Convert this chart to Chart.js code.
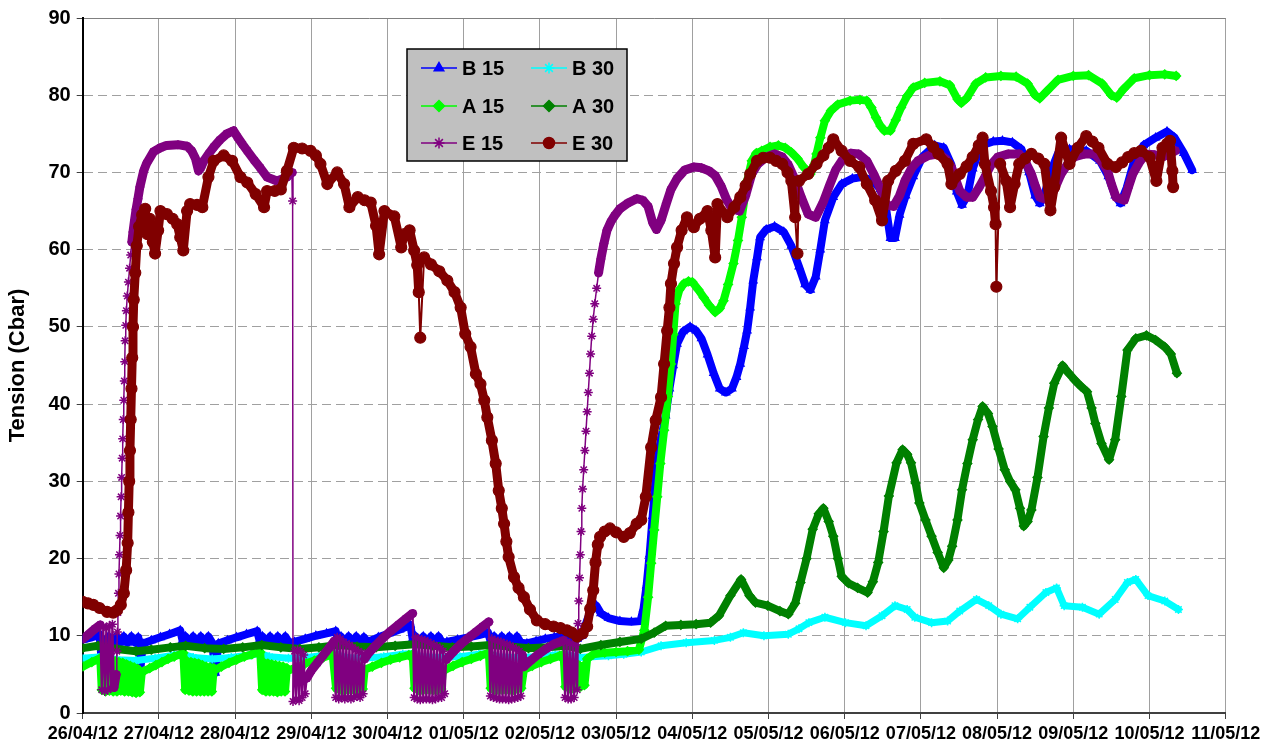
<!DOCTYPE html>
<html><head><meta charset="utf-8">
<script src="https://cdn.jsdelivr.net/npm/chart.js@4.4.1/dist/chart.umd.min.js"></script>
<style>html,body{margin:0;padding:0;background:#fff;}canvas{display:block;}</style>
</head><body>
<canvas id="c" width="1269" height="751"></canvas>
<script>
// ---- data (x = days since 26/04/12 00:00, y = tension in Cbar) ----
const dateLabels = ['26/04/12','27/04/12','28/04/12','29/04/12','30/04/12','01/05/12','02/05/12','03/05/12','04/05/12','05/05/12','06/05/12','07/05/12','08/05/12','09/05/12','10/05/12','11/05/12'];
const seriesNames = ['B 15','B 30','A 15','A 30','E 15','E 30'];

const b15 = [[0.00,9.5],[0.12,9.8],[0.22,10.2],[0.26,5.5],[0.30,9.4],
[0.34,9.9],[0.39,9.1],[0.44,9.9],[0.49,9.1],[0.54,9.9],[0.59,9.1],[0.64,9.9],[0.69,9.1],[0.73,9.8],[0.76,6.0],[0.79,9.0],
[0.90,9.4],[1.02,9.8],[1.14,10.2],[1.28,10.7],[1.31,9.4],
[1.35,9.9],[1.40,9.1],[1.45,9.9],[1.50,9.1],[1.55,9.9],[1.60,9.1],[1.65,9.9],[1.70,9.1],[1.74,5.2],[1.78,9.0],
[1.90,9.4],[2.02,9.8],[2.15,10.2],[2.29,10.6],[2.32,9.4],
[2.36,9.9],[2.41,9.1],[2.46,9.9],[2.51,9.1],[2.56,9.9],[2.61,9.1],[2.66,9.9],[2.71,9.1],[2.78,9.2],
[2.92,9.6],[3.06,10.0],[3.20,10.3],[3.32,10.6],[3.35,9.4],
[3.39,9.9],[3.44,9.1],[3.49,9.9],[3.54,9.1],[3.59,9.9],[3.64,9.1],[3.69,9.8],[3.74,9.2],
[3.88,9.8],[4.02,10.3],[4.16,10.8],[4.30,11.4],[4.33,9.6],
[4.37,9.9],[4.42,9.1],[4.47,9.9],[4.52,9.1],[4.57,9.9],[4.62,9.1],[4.67,9.9],[4.72,9.1],[4.78,9.2],
[4.92,9.5],[5.06,9.8],[5.20,10.1],[5.32,10.4],[5.35,9.4],
[5.40,9.9],[5.45,9.1],[5.50,9.9],[5.55,9.1],[5.60,9.9],[5.65,9.1],[5.70,9.9],[5.75,9.1],[5.83,9.0],
[5.95,9.3],[6.07,9.6],[6.19,9.8],[6.30,10.0],[6.34,9.4],[6.39,9.9],[6.44,9.1],[6.49,9.6],
[6.55,10.0],[6.62,12.0],[6.68,13.5],[6.74,13.9],[6.80,12.9],[6.90,12.3],[7.05,11.9],[7.20,11.8],[7.32,11.9],[7.36,13.5],[7.40,16.5],[7.44,20.5],[7.48,25.5],[7.52,30.5],[7.56,34.0],[7.60,36.0],[7.65,38.5],[7.70,42.0],[7.75,45.0],[7.80,47.8],[7.88,49.4],[7.97,50.0],[8.05,49.5],[8.12,48.5],[8.20,46.4],[8.28,44.0],[8.36,42.0],[8.44,41.5],[8.52,42.0],[8.58,43.5],[8.63,45.2],[8.68,47.5],[8.72,49.5],[8.76,52.5],[8.80,56.0],[8.85,59.0],[8.89,61.6],
[8.97,62.6],[9.08,63.0],[9.20,62.3],[9.30,60.5],[9.40,57.8],[9.48,55.5],[9.55,54.8],[9.62,56.5],[9.68,60.0],[9.74,63.8],[9.85,66.8],[9.96,68.5],[10.10,69.2],[10.22,69.4],[10.36,69.0],[10.47,67.8],[10.54,65.5],[10.60,61.5],[10.66,61.5],[10.72,64.5],[10.80,67.0],[10.90,69.5],[11.02,72.0],[11.18,73.5],[11.30,73.2],[11.40,71.0],[11.47,67.5],[11.54,65.8],[11.61,67.0],[11.68,70.5],[11.79,73.5],[11.95,74.0],[12.07,74.1],[12.20,73.9],[12.32,73.0],[12.42,70.0],[12.50,67.0],[12.56,66.0],[12.62,67.0],[12.70,70.0],[12.80,72.5],[12.95,73.0],[13.17,72.8],[13.35,71.5],[13.46,69.5],[13.55,67.0],[13.62,66.0],[13.70,68.0],[13.80,71.5],[13.92,73.5],[14.08,74.5],[14.23,75.3],[14.33,74.5],[14.45,72.5],[14.56,70.3]];

const b30 = [[0.00,7.1],[0.25,7.3],[0.45,6.9],[0.70,6.8],[0.95,7.1],[1.20,7.5],[1.32,7.6],[1.45,7.2],[1.70,7.0],[1.95,7.2],[2.20,7.5],[2.33,7.7],[2.45,7.3],[2.70,7.1],[2.95,7.2],[3.20,7.5],[3.32,7.6],[3.45,7.2],[3.70,7.1],[3.95,7.3],[4.20,7.6],[4.33,7.7],[4.45,7.3],[4.70,7.2],[4.95,7.3],[5.20,7.6],[5.33,7.7],[5.45,7.3],[5.70,7.2],[5.95,7.3],[6.20,7.5],[6.33,7.6],[6.53,7.2],[6.90,7.4],[7.10,7.6],[7.33,7.9],[7.59,8.7],[7.92,9.1],[8.29,9.4],[8.50,9.8],[8.67,10.4],[8.94,10.0],[9.26,10.2],[9.40,10.9],[9.53,11.7],[9.74,12.4],[10.01,11.7],[10.28,11.3],[10.49,12.6],[10.66,13.9],[10.82,13.4],[10.92,12.4],[11.14,11.7],[11.35,11.9],[11.51,13.2],[11.73,14.7],[11.89,13.9],[12.05,12.8],[12.27,12.2],[12.43,13.7],[12.64,15.6],[12.78,16.2],[12.88,13.9],[13.12,13.7],[13.34,12.8],[13.55,14.7],[13.71,16.9],[13.82,17.3],[13.98,15.2],[14.20,14.5],[14.38,13.4]];

const a15 = [[0.00,6.0],[0.12,6.6],[0.23,7.1],
[0.25,3.0],[0.275,6.9],[0.30,2.8],[0.325,6.8],[0.35,2.9],[0.375,6.8],[0.40,2.8],[0.425,6.7],[0.45,2.8],[0.475,6.6],[0.50,2.9],[0.525,6.5],[0.55,2.8],[0.575,6.3],[0.60,2.8],[0.625,6.1],[0.65,2.7],[0.675,5.9],[0.70,2.6],[0.725,5.7],[0.75,2.7],[0.775,5.2],
[0.80,5.4],[0.88,5.8],[0.96,6.2],[1.04,6.6],[1.12,7.0],[1.20,7.3],[1.28,7.6],[1.32,7.8],
[1.345,3.0],[1.37,6.7],[1.395,2.9],[1.42,6.6],[1.445,2.8],[1.47,6.5],[1.495,2.8],[1.52,6.4],[1.545,2.8],[1.57,6.2],[1.595,2.8],[1.62,6.0],[1.645,2.8],[1.67,5.9],[1.695,2.8],[1.72,5.8],[1.74,5.6],
[1.82,6.0],[1.92,6.5],[2.02,6.9],[2.12,7.3],[2.22,7.6],[2.33,7.9],
[2.355,3.0],[2.38,6.5],[2.405,2.8],[2.43,6.4],[2.455,2.8],[2.48,6.3],[2.505,2.8],[2.53,6.2],[2.555,2.7],[2.58,6.1],[2.605,2.8],[2.63,6.0],[2.655,2.8],[2.68,5.8],[2.70,5.5],
[2.80,5.9],[2.92,6.4],[3.04,6.8],[3.16,7.2],[3.28,7.6],
[3.325,3.2],[3.35,6.5],[3.375,3.0],[3.40,6.4],[3.425,3.0],[3.45,6.3],[3.475,3.0],[3.50,6.2],[3.525,3.0],[3.55,6.1],[3.575,3.0],[3.60,6.0],[3.625,3.0],[3.65,5.9],[3.675,3.1],[3.70,5.6],
[3.80,6.0],[3.92,6.5],[4.04,6.9],[4.16,7.2],[4.28,7.5],[4.33,7.6],
[4.355,3.2],[4.38,6.5],[4.405,3.0],[4.43,6.4],[4.455,3.0],[4.48,6.3],[4.505,3.0],[4.53,6.2],[4.555,3.0],[4.58,6.1],[4.605,3.0],[4.63,6.0],[4.655,3.0],[4.68,5.9],[4.705,3.1],[4.73,5.8],[4.76,5.6],
[4.86,6.1],[4.98,6.6],[5.10,7.0],[5.22,7.4],[5.33,7.8],
[5.355,3.2],[5.38,6.5],[5.405,3.0],[5.43,6.4],[5.455,3.0],[5.48,6.3],[5.505,3.0],[5.53,6.2],[5.555,3.0],[5.58,6.1],[5.605,3.0],[5.63,6.0],[5.655,3.0],[5.68,5.9],[5.705,3.1],[5.73,5.8],[5.755,3.2],[5.79,5.6],
[5.90,6.1],[6.02,6.6],[6.14,7.0],[6.26,7.4],[6.31,7.6],
[6.335,3.4],[6.36,6.5],[6.385,3.2],[6.41,6.4],[6.435,3.2],[6.46,6.3],[6.485,3.3],[6.51,6.2],[6.535,3.4],[6.56,6.0],[6.585,3.6],[6.62,7.0],
[6.70,7.6],[6.85,7.8],[7.00,7.9],[7.15,8.0],[7.30,8.2],[7.37,10.7],[7.42,15.0],[7.46,19.4],[7.50,23.7],[7.54,28.0],[7.58,32.3],[7.63,36.6],[7.68,41.0],[7.72,45.2],[7.75,49.0],[7.78,53.0],[7.83,54.8],[7.89,55.6],[7.95,55.9],[8.00,55.8],[8.08,54.8],[8.15,53.8],[8.22,52.8],[8.30,51.9],[8.36,52.4],[8.41,53.4],[8.47,55.5],[8.54,58.2],[8.60,61.2],[8.65,64.2],[8.72,68.9],[8.78,71.5],[8.84,72.5],[8.91,72.8],[9.02,73.3],[9.13,73.5],[9.22,73.2],[9.30,72.6],[9.38,71.8],[9.46,70.7],[9.55,69.8],[9.60,71.0],[9.63,72.4],[9.68,74.5],[9.74,76.7],[9.82,78.0],[9.91,78.8],[10.07,79.3],[10.20,79.4],[10.29,79.3],[10.35,78.4],[10.41,77.1],[10.47,76.0],[10.52,75.4],[10.60,75.4],[10.67,76.8],[10.74,78.4],[10.82,79.9],[10.90,81.0],[11.05,81.6],[11.25,81.8],[11.38,81.3],[11.48,79.5],[11.53,79.0],[11.60,79.6],[11.72,81.5],[11.85,82.3],[12.05,82.5],[12.25,82.4],[12.40,81.5],[12.50,80.0],[12.56,79.6],[12.65,80.5],[12.80,82.0],[13.00,82.5],[13.20,82.6],[13.38,81.5],[13.50,80.0],[13.57,79.7],[13.66,80.8],[13.80,82.2],[14.00,82.6],[14.20,82.7],[14.35,82.5]];

const a30 = [[0.00,8.4],[0.20,8.7],[0.45,8.3],[0.70,8.0],[0.90,8.2],[1.15,8.5],[1.35,8.7],[1.60,8.4],[1.85,8.3],[2.10,8.5],[2.35,8.8],[2.60,8.5],[2.85,8.3],[3.10,8.5],[3.35,8.8],[3.60,8.6],[3.85,8.5],[4.10,8.7],[4.35,8.9],[4.60,8.7],[4.85,8.5],[5.10,8.6],[5.35,8.8],[5.60,8.6],[5.85,8.4],[6.10,8.5],[6.35,8.7],[6.53,8.3],[6.80,8.8],[7.05,9.2],[7.33,9.6],[7.50,10.4],[7.65,11.3],[7.85,11.4],[8.05,11.5],[8.24,11.7],[8.35,12.6],[8.50,15.2],[8.64,17.3],[8.75,15.2],[8.83,14.3],[8.99,13.9],[9.15,13.2],[9.26,12.8],[9.35,14.2],[9.42,16.9],[9.50,20.0],[9.58,23.8],[9.66,25.8],[9.72,26.5],[9.79,24.8],[9.85,22.9],[9.91,20.0],[9.96,17.7],[10.05,16.8],[10.17,16.2],[10.30,15.6],[10.37,17.0],[10.44,19.5],[10.51,23.5],[10.58,28.1],[10.68,32.4],[10.76,34.1],[10.82,33.5],[10.87,32.4],[10.93,29.8],[10.98,27.2],[11.06,25.0],[11.14,22.9],[11.22,20.8],[11.30,18.8],[11.36,19.8],[11.41,21.6],[11.48,25.0],[11.54,28.9],[11.61,32.3],[11.68,35.4],[11.75,38.0],[11.81,39.7],[11.88,38.8],[11.94,37.1],[12.02,34.2],[12.10,31.5],[12.17,30.0],[12.24,28.9],[12.30,26.5],[12.35,24.2],[12.40,24.8],[12.45,26.3],[12.53,30.5],[12.61,35.8],[12.68,39.5],[12.75,42.7],[12.86,45.0],[12.94,44.0],[13.02,43.1],[13.10,42.3],[13.18,41.6],[13.24,39.5],[13.29,37.5],[13.37,34.9],[13.47,32.8],[13.55,35.4],[13.63,41.0],[13.71,47.0],[13.82,48.5],[13.96,48.9],[14.08,48.3],[14.20,47.4],[14.28,46.5],[14.36,44.0]];

const e15 = [[0.00,9.6],[0.08,10.2],[0.16,10.9],[0.23,11.4],
[0.25,3.0],[0.27,11.2],[0.29,2.8],[0.31,11.0],[0.33,3.0],[0.35,11.3],[0.37,3.2],[0.39,11.5],[0.41,3.3],[0.43,4.5],
[0.44,5.0],[0.448,8.0],[0.455,10.5],[0.462,13.0],[0.469,15.5],[0.476,18.0],[0.483,20.5],[0.49,23.0],[0.497,25.5],[0.504,28.0],[0.511,30.5],[0.518,33.0],[0.525,35.5],[0.532,38.0],[0.539,40.5],[0.546,43.0],[0.552,45.5],[0.557,48.2],[0.565,50.2],[0.573,52.1],[0.585,54.0],[0.60,55.8],[0.615,57.6],[0.63,59.3],[0.645,61.0],[0.66,62.3],[0.68,63.8],[0.70,65.2],[0.725,66.6],[0.75,68.1],[0.80,70.2],[0.84,71.2],[0.93,72.7],[1.02,73.2],[1.10,73.5],[1.25,73.6],[1.37,73.4],[1.43,72.8],[1.48,71.8],[1.52,70.2],[1.55,70.6],[1.59,71.5],[1.66,72.5],[1.72,73.3],[1.80,74.2],[1.89,75.0],[1.98,75.4],[2.03,74.6],[2.10,73.6],[2.16,72.8],[2.25,71.6],[2.33,70.6],[2.42,69.4],[2.55,68.9],[2.68,69.4],[2.75,70.0],[2.755,66.3],[2.76,1.5],
[2.78,8.0],[2.80,1.8],[2.82,8.2],[2.84,1.6],[2.86,8.0],[2.88,2.0],[2.90,7.5],[2.92,2.5],[2.94,4.5],
[3.00,5.5],[3.08,6.5],[3.16,7.5],[3.24,8.5],[3.30,9.3],
[3.32,2.0],[3.34,9.8],[3.36,1.8],[3.38,9.6],[3.40,2.0],[3.42,9.2],[3.44,1.8],[3.46,9.0],[3.48,2.0],[3.50,8.8],[3.52,1.8],[3.54,8.5],[3.56,2.0],[3.58,8.2],[3.60,2.2],[3.62,8.0],[3.64,2.0],[3.66,7.8],[3.68,2.5],[3.70,7.0],
[3.74,7.6],[3.84,8.7],[3.94,9.7],[4.04,10.6],[4.14,11.4],[4.24,12.2],[4.33,12.9],
[4.35,2.0],[4.37,9.8],[4.39,1.8],[4.41,9.6],[4.43,1.7],[4.45,9.5],[4.47,1.8],[4.49,9.4],[4.51,1.8],[4.53,9.2],[4.55,1.8],[4.57,9.0],[4.59,1.7],[4.61,8.8],[4.63,1.8],[4.65,8.6],[4.67,2.0],[4.69,8.4],[4.71,2.0],[4.73,8.0],[4.75,2.5],[4.77,6.9],
[4.86,7.9],[4.96,8.9],[5.06,9.7],[5.16,10.5],[5.25,11.2],[5.33,11.8],
[5.35,2.2],[5.37,9.6],[5.39,2.0],[5.41,9.4],[5.43,1.9],[5.45,9.3],[5.47,1.8],[5.49,9.2],[5.51,1.8],[5.53,9.0],[5.55,1.8],[5.57,8.9],[5.59,1.7],[5.61,8.7],[5.63,1.8],[5.65,8.5],[5.67,1.9],[5.69,8.3],[5.71,2.0],[5.73,8.0],[5.75,2.2],[5.77,7.5],[5.79,6.0],
[5.88,6.8],[5.98,7.6],[6.08,8.3],[6.18,8.9],[6.26,9.2],[6.31,9.4],
[6.33,2.0],[6.35,9.2],[6.37,1.8],[6.39,9.0],[6.41,1.8],[6.43,9.0],[6.45,2.0],[6.47,8.8],[6.49,3.0],
[6.50,11.6],[6.51,14.5],[6.52,17.5],[6.53,20.5],[6.54,23.5],[6.55,26.5],[6.56,29.0],[6.575,31.5],[6.59,34.0],[6.605,36.5],[6.62,39.0],[6.635,41.5],[6.65,44.0],[6.665,46.5],[6.68,48.8],[6.70,51.0],[6.72,53.0],[6.745,55.0],[6.77,57.0],[6.80,58.8],[6.84,60.8],[6.88,62.5],[6.93,63.6],[6.98,64.4],[7.05,65.3],[7.15,66.0],[7.27,66.6],[7.35,66.4],[7.42,65.6],[7.48,63.5],[7.53,62.6],[7.59,63.8],[7.66,66.0],[7.72,67.8],[7.80,69.2],[7.90,70.3],[8.02,70.7],[8.12,70.6],[8.22,70.2],[8.30,69.6],[8.38,68.2],[8.45,66.5],[8.52,65.3],[8.62,65.0],[8.70,67.0],[8.78,69.8],[8.86,71.1],[8.97,72.0],[9.08,72.4],[9.18,72.0],[9.26,71.0],[9.35,69.0],[9.43,66.8],[9.52,64.6],[9.62,64.2],[9.72,66.2],[9.80,68.3],[9.88,70.3],[9.96,71.5],[10.08,72.5],[10.18,72.4],[10.29,71.5],[10.38,69.8],[10.46,68.1],[10.55,65.8],[10.64,65.6],[10.72,67.0],[10.79,68.9],[10.88,70.6],[10.96,71.5],[11.10,72.2],[11.24,72.4],[11.33,71.7],[11.40,70.7],[11.46,69.0],[11.51,67.6],[11.60,66.8],[11.68,66.8],[11.76,68.0],[11.84,69.4],[11.92,71.0],[12.01,72.0],[12.15,72.4],[12.29,72.4],[12.38,71.2],[12.45,69.8],[12.50,68.3],[12.56,66.8],[12.68,66.4],[12.76,68.0],[12.84,69.8],[12.92,71.0],[13.01,72.0],[13.15,72.4],[13.28,72.4],[13.37,71.4],[13.45,70.2],[13.50,68.5],[13.56,66.8],[13.67,66.4],[13.72,68.0],[13.78,69.8],[13.86,71.2],[13.95,72.4],[14.06,72.3],[14.17,72.0],[14.26,72.4],[14.34,72.8]];

const e30 = [[0.00,14.4],[0.07,14.2],[0.14,14.0],[0.22,13.6],[0.32,13.1],[0.40,13.0],[0.45,13.3],[0.50,14.0],[0.54,15.5],[0.57,18.5],[0.59,22.0],[0.60,26.0],[0.61,30.0],[0.62,34.0],[0.63,38.0],[0.64,42.0],[0.65,46.0],[0.66,50.0],[0.67,53.5],[0.69,57.0],[0.71,60.5],[0.74,63.0],[0.78,64.5],[0.82,65.3],[0.85,62.0],[0.88,64.0],[0.92,61.0],[0.95,59.5],[0.99,62.5],[1.02,65.0],[1.105,64.6],[1.18,64.0],[1.24,63.3],[1.28,61.6],[1.32,59.9],[1.37,65.0],[1.41,65.9],[1.50,65.8],[1.57,65.5],[1.65,69.4],[1.72,71.5],[1.85,72.2],[1.96,71.5],[2.07,69.4],[2.16,68.7],[2.27,67.2],[2.38,65.5],[2.42,67.6],[2.52,67.6],[2.60,67.8],[2.68,70.2],[2.77,73.2],[2.88,73.1],[2.99,72.8],[3.06,72.2],[3.12,71.1],[3.21,68.5],[3.34,70.0],[3.43,68.5],[3.50,65.5],[3.61,66.8],[3.70,66.4],[3.78,66.1],[3.85,63.1],[3.89,59.4],[3.96,65.0],[4.09,64.3],[4.18,60.3],[4.22,62.0],[4.29,62.5],[4.35,59.9],[4.39,58.0],[4.41,54.5],[4.43,48.6],[4.48,59.0],[4.57,58.1],[4.68,57.2],[4.785,56.0],[4.88,54.5],[4.96,52.5],[5.02,49.1],[5.09,47.4],[5.16,43.9],[5.22,42.6],[5.27,40.5],[5.31,38.3],[5.37,35.3],[5.42,32.3],[5.46,28.8],[5.50,26.5],[5.53,24.5],[5.56,22.2],[5.59,20.2],[5.66,17.6],[5.72,16.2],[5.79,15.0],[5.87,13.4],[5.96,12.0],[6.07,11.5],[6.18,11.2],[6.27,11.0],[6.355,10.7],[6.42,10.4],[6.49,9.9],[6.56,10.3],[6.62,11.2],[6.66,13.5],[6.70,15.9],[6.73,19.5],[6.76,21.8],[6.79,22.8],[6.85,23.5],[6.92,23.9],[7.00,23.4],[7.10,22.8],[7.18,23.3],[7.27,24.5],[7.33,25.0],[7.39,28.0],[7.46,34.4],[7.52,37.9],[7.59,40.9],[7.63,45.2],[7.67,49.5],[7.70,52.5],[7.72,55.6],[7.76,58.2],[7.80,60.3],[7.86,62.5],[7.93,64.2],[8.02,62.9],[8.10,64.0],[8.20,65.0],[8.25,62.5],[8.30,59.0],[8.33,65.9],[8.46,64.2],[8.55,65.5],[8.63,66.8],[8.70,68.3],[8.76,69.8],[8.85,71.5],[8.93,71.9],[9.02,71.9],[9.10,71.5],[9.18,71.1],[9.25,70.0],[9.30,68.9],[9.35,64.2],[9.38,59.5],[9.40,68.9],[9.52,69.8],[9.63,71.1],[9.72,72.2],[9.79,73.2],[9.85,74.3],[9.96,72.8],[10.07,71.5],[10.19,70.7],[10.29,68.5],[10.40,66.4],[10.49,63.8],[10.57,68.9],[10.67,70.2],[10.79,71.5],[10.90,73.7],[11.07,74.3],[11.16,73.3],[11.23,72.4],[11.35,71.1],[11.40,68.5],[11.51,69.8],[11.60,70.8],[11.68,72.0],[11.76,73.5],[11.81,74.5],[11.84,71.1],[11.92,67.6],[11.96,65.5],[11.98,63.3],[11.99,55.2],[12.04,71.1],[12.12,68.9],[12.17,65.5],[12.23,68.5],[12.29,71.1],[12.37,71.8],[12.45,72.4],[12.54,71.8],[12.62,71.1],[12.70,65.1],[12.75,68.1],[12.84,74.5],[12.95,71.1],[13.06,73.2],[13.17,74.7],[13.25,74.0],[13.33,73.2],[13.45,71.1],[13.56,70.7],[13.64,71.3],[13.72,72.0],[13.80,72.5],[13.89,72.8],[14.00,72.0],[14.09,68.9],[14.17,73.2],[14.23,73.7],[14.27,74.1],[14.30,70.2],[14.31,68.1]];

// ---- rendering ----
const FONT = "'Liberation Sans', Arial, Helvetica, sans-serif";
const toPts = a => a.map(p => ({x: p[0], y: p[1]}));
const isSpike = (a, i) => i > 0 && i < a.length - 1 && a[i][1] < a[i-1][1] - 4 && a[i][1] < a[i+1][1] - 4;
const steep = c => Math.abs(c.p1.y - c.p0.y) > 4 * Math.abs(c.p1.x - c.p0.x) + 6;
// thin connector on steep monotonic runs, hatch on steep zig-zags
const e15Width = c => {
  if (!steep(c)) return 9;
  const i = c.p0DataIndex;
  const prev = i > 0 ? e15[i][1] - e15[i - 1][1] : 0;
  const cur = e15[c.p1DataIndex][1] - e15[i][1];
  return prev * cur < 0 ? 2.2 : 1.5;
};

function ds(i, data, color, style, width, radius, extra) {
  return Object.assign({
    label: seriesNames[i], data: toPts(data),
    borderColor: color, backgroundColor: color,
    pointBackgroundColor: color, pointBorderColor: color,
    borderWidth: width, pointStyle: style, pointRadius: radius, pointBorderWidth: 1.2,
    pointHoverRadius: radius, borderJoinStyle: 'round', borderCapStyle: 'round',
    tension: 0, fill: false, order: 6 - i
  }, extra || {});
}

function drawMarker(ctx, style, x, y, r) {
  if (Chart.helpers && Chart.helpers.drawPoint) {
    Chart.helpers.drawPoint(ctx, {pointStyle: style, radius: r, rotation: 0, borderWidth: 1.5}, x, y);
  } else {
    ctx.beginPath(); ctx.arc(x, y, r, 0, Math.PI * 2); ctx.fill();
  }
}

const legendPlugin = {
  id: 'boxLegend',
  afterDraw(chart) {
    const ctx = chart.ctx;
    ctx.save();
    ctx.fillStyle = '#c0c0c0';
    ctx.fillRect(407, 49, 220, 112);
    ctx.strokeStyle = '#000'; ctx.lineWidth = 1.5;
    ctx.strokeRect(407, 49, 220, 112);
    const rows = [68, 106, 143], cols = [421, 531];
    chart.data.datasets.forEach((d, i) => {
      const x = cols[i % 2], y = rows[Math.floor(i / 2)];
      ctx.strokeStyle = d.borderColor; ctx.lineWidth = 1.5;
      ctx.beginPath(); ctx.moveTo(x, y); ctx.lineTo(x + 36, y); ctx.stroke();
      ctx.fillStyle = d.borderColor;
      drawMarker(ctx, d.pointStyle, x + 18, y, 5.5);
      ctx.fillStyle = '#000';
      ctx.font = 'bold 20px ' + FONT;
      ctx.textBaseline = 'middle'; ctx.textAlign = 'left';
      ctx.fillText(d.label, x + 41, y + 1);
    });
    ctx.restore();
  }
};

new Chart(document.getElementById('c'), {
  type: 'line',
  data: {
    datasets: [
      ds(0, b15, '#0000ff', 'triangle', 8, 4.5),
      ds(1, b30, '#00ffff', 'star', 7, 4.5, {pointBorderWidth: 1.5}),
      ds(2, a15, '#00ff00', 'rectRot', 8, 4.5),
      ds(3, a30, '#008000', 'rectRot', 8, 4.5),
      ds(4, e15, '#800080', 'star', 9, 4.5, {pointBorderWidth: 1.5, segment: {borderWidth: e15Width}}),
      ds(5, e30, '#800000', 'circle', 9, 5.5, {
        segment: {borderWidth: c => (isSpike(e30, c.p0DataIndex) || isSpike(e30, c.p1DataIndex)) ? 2 : 9}})
    ]
  },
  options: {
    responsive: false, animation: false, devicePixelRatio: 1,
    layout: {padding: {left: 0, right: 43.3, top: 17, bottom: 0}},
    plugins: {legend: {display: false}, tooltip: {enabled: false}},
    scales: {
      x: {
        type: 'linear', min: 0, max: 15,
        afterFit(s) { s.height = 38; },
        ticks: {stepSize: 1, autoSkip: false, maxRotation: 0, color: '#000', padding: 4,
          font: {family: FONT, size: 18, weight: 'bold'},
          callback: v => dateLabels[v] !== undefined ? dateLabels[v] : ''},
        grid: {color: c => (c.tick && c.tick.value === 0) ? 'rgba(0,0,0,0)' : '#a0a0a0',
          lineWidth: 1, tickLength: 6, tickColor: '#404040', tickWidth: 1},
        border: {display: true, color: '#404040', width: 2}
      },
      y: {
        min: 0, max: 90,
        afterFit(s) { s.width = 82.7; },
        ticks: {stepSize: 10, color: '#000', padding: 6,
          font: {family: FONT, size: 20, weight: 'bold'}},
        title: {display: true, text: 'Tension (Cbar)', color: '#000',
          font: {family: FONT, size: 22, weight: 'bold'}, padding: {top: 5, bottom: 0}},
        grid: {color: c => (c.tick && c.tick.value === 0) ? 'rgba(0,0,0,0)' : (c.tick && c.tick.value === 90 ? '#808080' : '#a0a0a0'),
          lineWidth: 1, tickLength: 6, tickColor: '#404040', tickWidth: 1},
        border: {display: true, color: '#000', width: 2,
          dash: c => (c.type === 'tick' && c.tick && c.tick.value !== 90) ? [9, 5] : []}
      }
    }
  },
  plugins: [legendPlugin]
});
</script>
</body></html>
